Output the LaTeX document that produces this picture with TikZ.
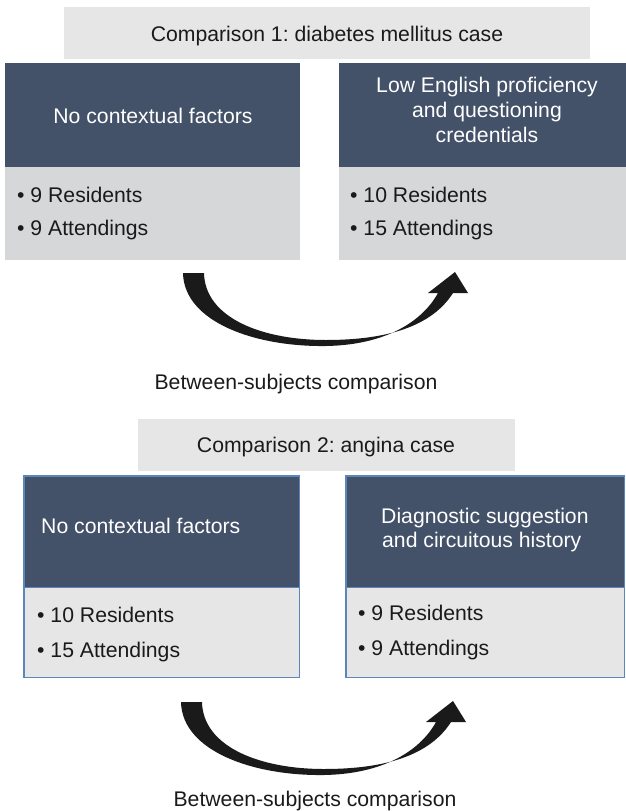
\documentclass[tikz,border=0pt]{standalone}
\usepackage{fontspec}
\setmainfont{Liberation Sans}
\frenchspacing
\definecolor{navy}{HTML}{435169}
\definecolor{paleA}{HTML}{D6D7D9}
\definecolor{paleB}{HTML}{E6E6E6}
\definecolor{hdr}{HTML}{E6E6E6}
\definecolor{edge}{HTML}{5A86BA}
\definecolor{ink}{HTML}{1A1A1A}
\begin{document}
\begin{tikzpicture}[x=1pt,y=-1pt,
  font=\fontsize{21.2}{25}\selectfont,
  hdrbox/.style={fill=hdr,draw=none,inner sep=0pt,anchor=north west},
  darkbox/.style={fill=navy,draw=none,inner sep=0pt,anchor=north west},
  lightbox/.style={fill=paleA,draw=none,inner sep=0pt,anchor=north west},
  lightboxb/.style={fill=paleB,draw=none,inner sep=0pt,anchor=north west},
  wtext/.style={text=white,inner sep=0pt},
  btext/.style={text=ink,inner sep=0pt},
  curvearrow/.pic={
    \fill[ink] (183,273) .. controls (184,322) and (255,347) .. (326,346)
      .. controls (385,345) and (422,322) .. (438,293)
      -- (428,293) -- (455,272) -- (468,293) -- (453,293)
      .. controls (432,326) and (388,340) .. (326,340)
      .. controls (262,340) and (205,318) .. (204,273) -- cycle;
  }]
\useasboundingbox (0,0) rectangle (626,811);
% ---------- Comparison 1 ----------
\node[hdrbox,minimum width=526pt,minimum height=52pt] (h1) at (64,7) {};
\node[btext,anchor=base] (h1t) at (327,41) {Comparison 1: diabetes mellitus case};
\node[darkbox,minimum width=295pt,minimum height=104pt] (d1) at (5,63) {};
\node[lightbox,minimum width=295pt,minimum height=93pt] (l1) at (5,167) {};
\node[darkbox,minimum width=287pt,minimum height=104pt] (d2) at (339,63) {};
\node[lightbox,minimum width=287pt,minimum height=93pt] (l2) at (339,167) {};
\node[wtext,anchor=base] (d1t) at (153,123) {No contextual factors};
\node[wtext,anchor=base] (d2a) at (487,92) {Low English proficiency};
\node[wtext,anchor=base] (d2b) at (487,117) {and questioning};
\node[wtext,anchor=base] (d2c) at (487,142) {credentials};
\node[btext,anchor=base west] (l1a) at (17,202) {\textbullet\ 9 Residents};
\node[btext,anchor=base west] (l1b) at (17,235) {\textbullet\ 9 Attendings};
\node[btext,anchor=base west] (l2a) at (350,202) {\textbullet\ 10 Residents};
\node[btext,anchor=base west] (l2b) at (350,235) {\textbullet\ 15 Attendings};
\pic at (0,0) {curvearrow};
\node[btext,anchor=base] (c1) at (296,389) {Between-subjects comparison};
% ---------- Comparison 2 ----------
\node[hdrbox,minimum width=377pt,minimum height=52pt] (h2) at (138,419) {};
\node[btext,anchor=base] (h2t) at (326,452) {Comparison 2: angina case};
\node[darkbox,minimum width=275pt,minimum height=111pt] (d3) at (24,476) {};
\node[lightboxb,minimum width=275pt,minimum height=90pt] (l3) at (24,587) {};
\node[darkbox,minimum width=278pt,minimum height=111pt] (d4) at (346,476) {};
\node[lightboxb,minimum width=278pt,minimum height=90pt] (l4) at (346,587) {};
\draw[edge,line width=1.3pt] (d3.north west) rectangle (l3.south east);
\draw[edge,line width=1.3pt] (d4.north west) rectangle (l4.south east);
\draw[edge,line width=1pt] (l3.north west) -- (l3.north east);
\draw[edge,line width=1pt] (l4.north west) -- (l4.north east);
\node[wtext,anchor=base west] (d3t) at (41,533) {No contextual factors};
\node[wtext,anchor=base west] (d4a) at (381,523) {Diagnostic suggestion};
\node[wtext,anchor=base west] (d4b) at (382,547) {and circuitous history};
\node[btext,anchor=base west] (l3a) at (37,622) {\textbullet\ 10 Residents};
\node[btext,anchor=base west] (l3b) at (37,657) {\textbullet\ 15 Attendings};
\node[btext,anchor=base west] (l4a) at (358,620) {\textbullet\ 9 Residents};
\node[btext,anchor=base west] (l4b) at (358,655) {\textbullet\ 9 Attendings};
\pic at (-2,429) {curvearrow};
\node[btext,anchor=base] (c2) at (315,806) {Between-subjects comparison};
\end{tikzpicture}
\end{document}
